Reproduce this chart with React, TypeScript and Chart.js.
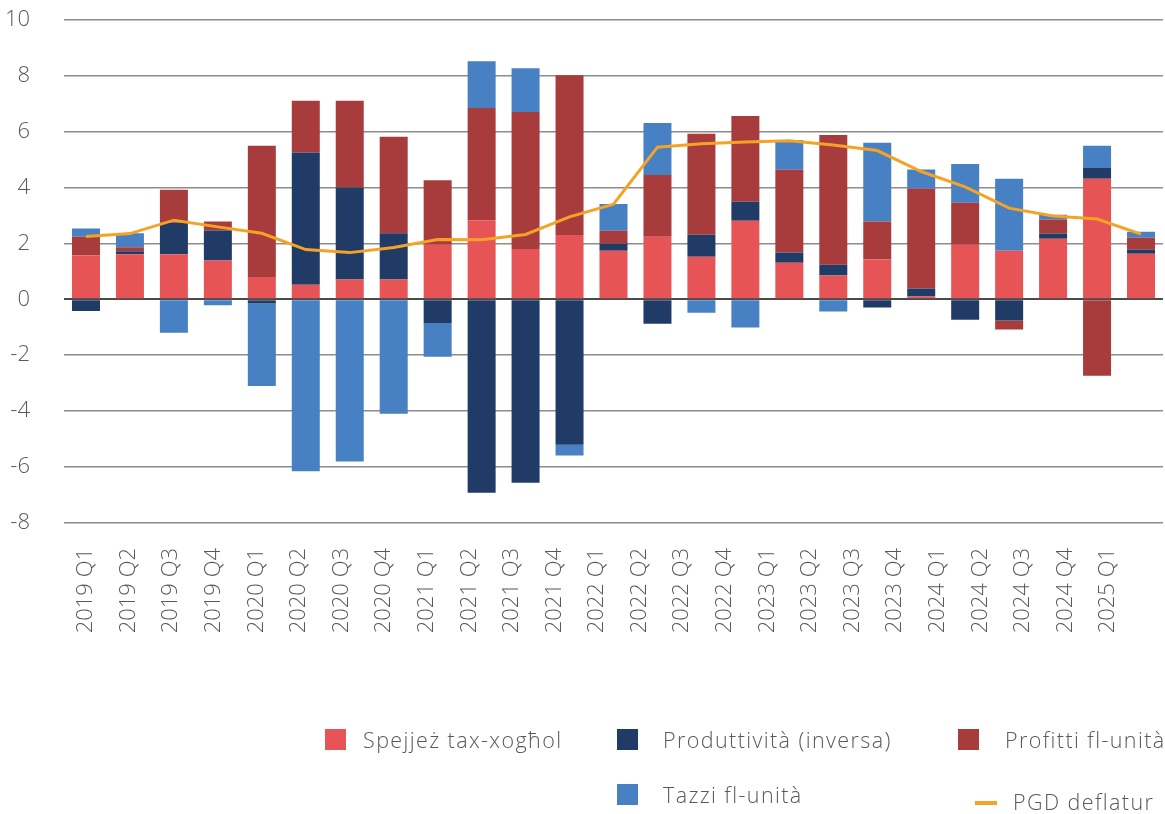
import React, { useEffect, useRef } from "react";
import { Chart, registerables } from "chart.js";

Chart.register(...registerables);

const labels = [
  "2019 Q1", "2019 Q2", "2019 Q3", "2019 Q4",
  "2020 Q1", "2020 Q2", "2020 Q3", "2020 Q4",
  "2021 Q1", "2021 Q2", "2021 Q3", "2021 Q4",
  "2022 Q1", "2022 Q2", "2022 Q3", "2022 Q4",
  "2023 Q1", "2023 Q2", "2023 Q3", "2023 Q4",
  "2024 Q1", "2024 Q2", "2024 Q3", "2024 Q4",
  "2025 Q1",
];

const spejjez = [
  1.57, 1.61, 1.61, 1.39,
  0.8, 0.52, 0.71, 0.71,
  1.95, 2.83, 1.8, 2.3,
  1.74, 2.24, 1.52, 2.81,
  1.31, 0.85, 1.42, 0.1,
  1.95, 1.74, 2.17, 4.31,
  1.63,
];

const produttivita = [
  -0.42, 0.11, 1.13, 1.07,
  -0.15, 4.73, 3.29, 1.65,
  -0.85, -6.92, -6.56, -5.2,
  0.25, -0.87, 0.79, 0.68,
  0.36, 0.39, -0.29, 0.29,
  -0.73, -0.76, 0.18, 0.39,
  0.14,
];

const profitti = [
  0.68, 0.14, 1.18, 0.32,
  4.69, 1.85, 3.1, 3.45,
  2.31, 4.01, 4.9, 5.71,
  0.46, 2.21, 3.61, 3.07,
  2.96, 4.64, 1.36, 3.57,
  1.5, -0.32, 0.5, -2.73,
  0.43,
];

const tazzi = [
  0.28, 0.5, -1.2, -0.21,
  -2.95, -6.15, -5.8, -4.09,
  -1.2, 1.67, 1.56, -0.39,
  0.96, 1.86, -0.48, -1.01,
  1.07, -0.44, 2.82, 0.68,
  1.39, 2.57, 0.17, 0.79,
  0.22,
];

const pgd = [
  2.25, 2.35, 2.83, 2.59,
  2.36, 1.78, 1.67, 1.85,
  2.14, 2.13, 2.32, 2.95,
  3.4, 5.44, 5.56, 5.63,
  5.67, 5.52, 5.32, 4.57,
  4.02, 3.26, 2.98, 2.87,
  2.33,
];

const seriesNames = [
  "Spejjeż tax-xogħol",
  "Produttività (inversa)",
  "Profitti fl-unità",
  "Tazzi fl-unità",
  "PGD deflatur",
];

const RED = "#E65456";
const NAVY = "#203C66";
const DARKRED = "#A83C3C";
const BLUE = "#4880C4";
const ORANGE = "#F5A325";
const TEXT = "#595959";
const FONT_FAMILY = "'Open Sans', 'Noto Sans', sans-serif";

export default function App() {
  const canvasRef = useRef<HTMLCanvasElement | null>(null);

  useEffect(() => {
    const canvas = canvasRef.current;
    if (!canvas) return;
    const yFont = { family: FONT_FAMILY, size: 22, weight: "300" as any };
    const xFont = { family: FONT_FAMILY, size: 22, weight: "300" as any };
    const chart = new Chart(canvas, {
      type: "bar",
      data: {
        labels,
        datasets: [
          {
            type: "line" as any,
            label: seriesNames[4],
            data: pgd,
            borderColor: ORANGE,
            backgroundColor: ORANGE,
            borderWidth: 3,
            pointRadius: 0,
            tension: 0,
            order: 0,
            stack: "line",
            xAxisID: "x",
            yAxisID: "y",
          } as any,
          { label: seriesNames[0], data: spejjez, backgroundColor: RED, order: 1, stack: "bars" },
          { label: seriesNames[1], data: produttivita, backgroundColor: NAVY, order: 1, stack: "bars" },
          { label: seriesNames[2], data: profitti, backgroundColor: DARKRED, order: 1, stack: "bars" },
          { label: seriesNames[3], data: tazzi, backgroundColor: BLUE, order: 1, stack: "bars" },
        ],
      },
      options: {
        animation: false,
        responsive: false,
        devicePixelRatio: 1,
        layout: { padding: { top: 19.7, right: 2, left: 0, bottom: 0 } },
        datasets: { bar: { categoryPercentage: 1, barPercentage: 0.637 } } as any,
        plugins: { legend: { display: false }, tooltip: { enabled: false } },
        scales: {
          x: {
            type: "category",
            stacked: true,
            display: false,
            offset: true,
            grid: { display: false },
          },
          xl: {
            type: "linear",
            position: "bottom",
            offset: false,
            bounds: "data",
            min: -0.517,
            max: 25.29,
            grid: { display: false, drawTicks: false, offset: false },
            border: { display: false },
            afterBuildTicks: (s: any) => {
              s.ticks = labels.map((_, i) => ({ value: i }));
            },
            afterFit: (s: any) => {
              s.height = 291;
              s.paddingLeft = 0;
              s.paddingRight = 0;
              s.paddingTop = 0;
              s.paddingBottom = 0;
            },
            ticks: {
              autoSkip: false,
              minRotation: 90,
              maxRotation: 90,
              padding: 25,
              font: xFont,
              color: TEXT,
              callback: (v: any) => labels[v] ?? "",
            },
          } as any,
          y: {
            stacked: true,
            min: -8,
            max: 10,
            ticks: { stepSize: 2, padding: 34, font: yFont, color: TEXT },
            grid: {
              drawTicks: false,
              color: (c: any) => (c.tick && c.tick.value === 0 ? "#4a4a4a" : "#8c8c8c"),
              lineWidth: (c: any) => (c.tick && c.tick.value === 0 ? 2 : 1.5),
            },
            border: { display: false },
            afterFit: (s: any) => {
              s.width = 64;
              s.paddingTop = 12;
              s.paddingBottom = 12;
            },
          } as any,
        },
      },
    });
    return () => chart.destroy();
  }, []);

  const legendText: React.CSSProperties = {
    position: "absolute",
    fontFamily: FONT_FAMILY,
    fontWeight: 300,
    fontSize: 21.5,
    letterSpacing: "1.4px",
    color: TEXT,
    lineHeight: "24px",
    whiteSpace: "nowrap",
  };
  const box = (left: number, top: number, color: string): React.CSSProperties => ({
    position: "absolute",
    left,
    top,
    width: 21,
    height: 21,
    background: color,
  });

  return (
    <div style={{ position: "absolute", left: 0, top: 0, width: 1165, height: 814, background: "#fff" }}>
      <canvas ref={canvasRef} width={1165} height={814} style={{ display: "block" }} />
      <div style={box(325, 729, RED)} />
      <div style={{ ...legendText, left: 363, top: 728 }}>{seriesNames[0]}</div>
      <div style={box(617, 729, NAVY)} />
      <div style={{ ...legendText, left: 663, top: 728 }}>{seriesNames[1]}</div>
      <div style={box(958, 729, DARKRED)} />
      <div style={{ ...legendText, left: 1005, top: 728 }}>{seriesNames[2]}</div>
      <div style={box(617, 784, BLUE)} />
      <div style={{ ...legendText, left: 663, top: 783 }}>{seriesNames[3]}</div>
      <div style={{ position: "absolute", left: 975, top: 801, width: 22, height: 4, background: ORANGE }} />
      <div style={{ ...legendText, left: 1013, top: 790 }}>{seriesNames[4]}</div>
    </div>
  );
}
